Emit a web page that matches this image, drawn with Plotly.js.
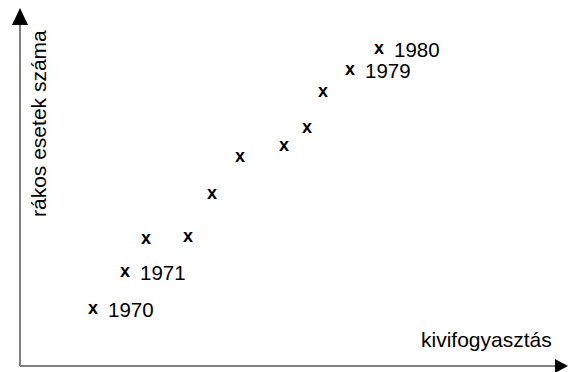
<!DOCTYPE html>
<html>
<head>
<meta charset="utf-8">
<script src="https://cdn.plot.ly/plotly-3.0.1.min.js"></script>
<style>html,body{margin:0;padding:0;background:#fff;}#chart{width:568px;height:372px;}</style>
</head>
<body>
<div id="chart"></div>
<script>
// Data (arbitrary units, origin at the axes corner)
const years = [1970, 1971, 1972, 1973, 1974, 1975, 1976, 1977, 1978, 1979, 1980];
const kiwiConsumption = [14.6, 21.0, 25.2, 33.6, 38.4, 44.0, 52.8, 57.4, 60.6, 66.0, 71.8];
const cancerCases = [11.4, 18.8, 25.4, 25.8, 34.4, 41.8, 44.0, 47.6, 54.8, 59.2, 63.4];
const labeledYears = [1970, 1971, 1979, 1980];
const xTitle = 'kivifogyasztás';
const yTitle = 'rákos esetek száma';

const font = 'Liberation Sans, Arial, sans-serif';

const markerTrace = {
  x: kiwiConsumption,
  y: cancerCases,
  mode: 'text',
  type: 'scatter',
  text: years.map(() => 'x'),
  textposition: 'middle center',
  textfont: {family: font, size: 18, color: '#000', weight: 'bold'},
  hoverinfo: 'skip',
  showlegend: false
};

const annotations = labeledYears.map(yr => {
  const i = years.indexOf(yr);
  return {
    x: kiwiConsumption[i], y: cancerCases[i], xref: 'x', yref: 'y',
    text: String(yr), showarrow: false, xanchor: 'left', yanchor: 'middle',
    xshift: 12.5, yshift: -0.5,
    font: {family: font, size: 20.5, color: '#000'}
  };
});

annotations.push({
  x: 1, y: 0, xref: 'paper', yref: 'y', xanchor: 'right', yanchor: 'bottom',
  text: xTitle, showarrow: false, xshift: -14, yshift: 13,
  font: {family: font, size: 21, color: '#000'}
});
annotations.push({
  x: 0, y: 1, xref: 'x', yref: 'paper', xanchor: 'left', yanchor: 'top',
  text: yTitle, showarrow: false, textangle: -90, xshift: 5, yshift: -28,
  font: {family: font, size: 21, color: '#000'}
});

const xEnd = 107;   // end of the x axis line
const yEnd = 68.2;  // end of the y axis line

const shapes = [
  {type: 'line', xref: 'x', yref: 'y', x0: 0, y0: 0, x1: xEnd, y1: 0, line: {color: '#7f7f7f', width: 2}},
  {type: 'line', xref: 'x', yref: 'y', x0: 0, y0: 0, x1: 0, y1: yEnd, line: {color: '#7f7f7f', width: 2}},
  {type: 'path', xref: 'x', yref: 'y', xsizemode: 'pixel', ysizemode: 'pixel', xanchor: xEnd, yanchor: 0,
   path: 'M 0 -7 L 0 7 L 13 0 Z', fillcolor: '#000', line: {width: 0}},
  {type: 'path', xref: 'x', yref: 'y', xsizemode: 'pixel', ysizemode: 'pixel', xanchor: 0, yanchor: yEnd,
   path: 'M -8 0 L 8 0 L 0 17 Z', fillcolor: '#000', line: {width: 0}}
];

const layout = {
  width: 568, height: 372,
  margin: {l: 0, r: 0, t: 0, b: 0},
  paper_bgcolor: '#fff', plot_bgcolor: '#fff',
  xaxis: {range: [-4, 109.6], visible: false, fixedrange: true},
  yaxis: {range: [-1.2, 73.2], visible: false, fixedrange: true},
  showlegend: false,
  annotations: annotations,
  shapes: shapes
};

Plotly.newPlot('chart', [markerTrace], layout, {displayModeBar: false, staticPlot: true});
</script>
</body>
</html>
